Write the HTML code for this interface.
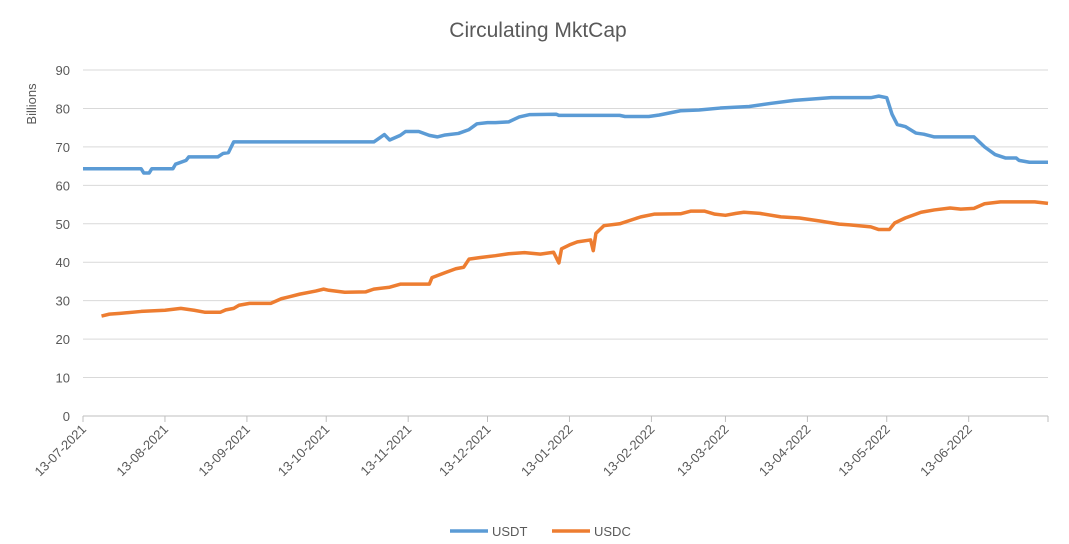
<!DOCTYPE html>
<html><head><meta charset="utf-8"><style>
body{margin:0;background:#fff;font-family:"Liberation Sans",Arial,sans-serif}
</style></head><body>
<svg id="c" width="1069" height="544" style="display:block"></svg>
<script>
const yTicks=[0,10,20,30,40,50,60,70,80,90];
const monthLabels=["13-07-2021","13-08-2021","13-09-2021","13-10-2021","13-11-2021","13-12-2021","13-01-2022","13-02-2022","13-03-2022","13-04-2022","13-05-2022","13-06-2022"];
const usdtDays=[0,22,23,25,26,34,35,39,40,51,53,55,57,110,114,116,120,122,127,131,134,137,142,146,149,153,156,161,165,169,179,180,203,205,214,218,226,233,241,252,260,269,283,298,301,304,306,308,311,315,318,322,337,341,345,349,353,354,358,365];
const usdtVals=[64.3,64.3,63.2,63.2,64.3,64.3,65.5,66.5,67.4,67.4,68.3,68.5,71.3,71.3,73.2,71.8,73,74,74,73,72.6,73.1,73.5,74.5,76,76.3,76.3,76.5,77.8,78.4,78.5,78.2,78.2,77.9,77.9,78.3,79.4,79.6,80.1,80.5,81.3,82.1,82.8,82.8,83.2,82.8,78.5,75.8,75.3,73.6,73.3,72.6,72.6,70,68,67.1,67.1,66.5,66,66];
const usdcDays=[7,10,14,22,31,37,42,46,52,54,57,59,63,71,75,78,82,88,91,93,99,107,110,116,120,131,132,137,141,144,146,150,156,161,167,173,178,180,181,184,187,192,193,194,197,203,211,216,226,230,235,239,243,247,250,256,264,271,279,286,290,298,301,305,307,311,317,322,328,332,337,341,347,360,365];
const usdcVals=[26,26.5,26.7,27.2,27.5,28,27.5,27,27,27.6,28,28.8,29.3,29.3,30.5,31,31.7,32.5,33,32.7,32.2,32.3,33,33.5,34.3,34.3,36,37.3,38.3,38.7,40.8,41.2,41.7,42.2,42.5,42.1,42.6,39.8,43.5,44.5,45.3,45.8,43,47.5,49.5,50,51.8,52.5,52.6,53.3,53.3,52.5,52.2,52.7,53,52.7,51.8,51.5,50.7,49.9,49.7,49.2,48.5,48.5,50.2,51.5,53,53.6,54.1,53.8,54,55.2,55.7,55.7,55.3];

const NS="http://www.w3.org/2000/svg";
const svg=document.getElementById('c');
const X0=83,X1=1048,Y0=416,Y1=70,DAYS=365,YMAX=90;
const xs=d=>X0+d*(X1-X0)/DAYS;
const ys=v=>Y0-v*(Y0-Y1)/YMAX;
function mk(t,a){const e=document.createElementNS(NS,t);for(const k in a)e.setAttribute(k,a[k]);svg.appendChild(e);return e;}

let t=mk('text',{x:538,y:37,'text-anchor':'middle','font-size':21,fill:'#595959'});t.textContent='Circulating MktCap';


yTicks.forEach(v=>{
  const g=mk('line',{x1:X0,x2:X1,y1:ys(v),y2:ys(v),stroke:v===0?'#bfbfbf':'#d9d9d9','stroke-width':1});
  
  const l=mk('text',{x:X0-13,y:ys(v)+5,'text-anchor':'end','font-size':13,fill:'#595959'});l.textContent=v;
  
});
t=mk('text',{x:0,y:0,transform:'translate(36,104) rotate(-90)','text-anchor':'middle','font-size':13,fill:'#595959'});t.textContent='Billions';


const base=Date.UTC(2021,6,13);
for(let i=0;i<=12;i++){
  const d=(Date.UTC(2021,6+i,13)-base)/86400000;
  const x=xs(d);
  const tk=mk('line',{x1:x,x2:x,y1:Y0,y2:Y0+6,stroke:'#bfbfbf'});
  
  if(i<monthLabels.length){
    const l=mk('text',{x:0,y:0,transform:`translate(${x+4},${Y0+14}) rotate(-45)`,'text-anchor':'end','font-size':13,fill:'#595959'});
    l.textContent=monthLabels[i];
    
  }
}
function series(days,vals,color,name){
  const p=mk('polyline',{points:days.map((d,i)=>xs(d)+','+ys(vals[i])).join(' '),fill:'none',stroke:color,'stroke-width':3.5,'stroke-linejoin':'round'});
  
}
series(usdtDays,usdtVals,'#5b9bd5','usdt-line');
series(usdcDays,usdcVals,'#ed7d31','usdc-line');

let lg=mk('line',{x1:450,x2:488,y1:531,y2:531,stroke:'#5b9bd5','stroke-width':3.5});

t=mk('text',{x:492,y:536,'font-size':13,fill:'#595959'});t.textContent='USDT';

lg=mk('line',{x1:552,x2:590,y1:531,y2:531,stroke:'#ed7d31','stroke-width':3.5});

t=mk('text',{x:594,y:536,'font-size':13,fill:'#595959'});t.textContent='USDC';

</script>
</body></html>
